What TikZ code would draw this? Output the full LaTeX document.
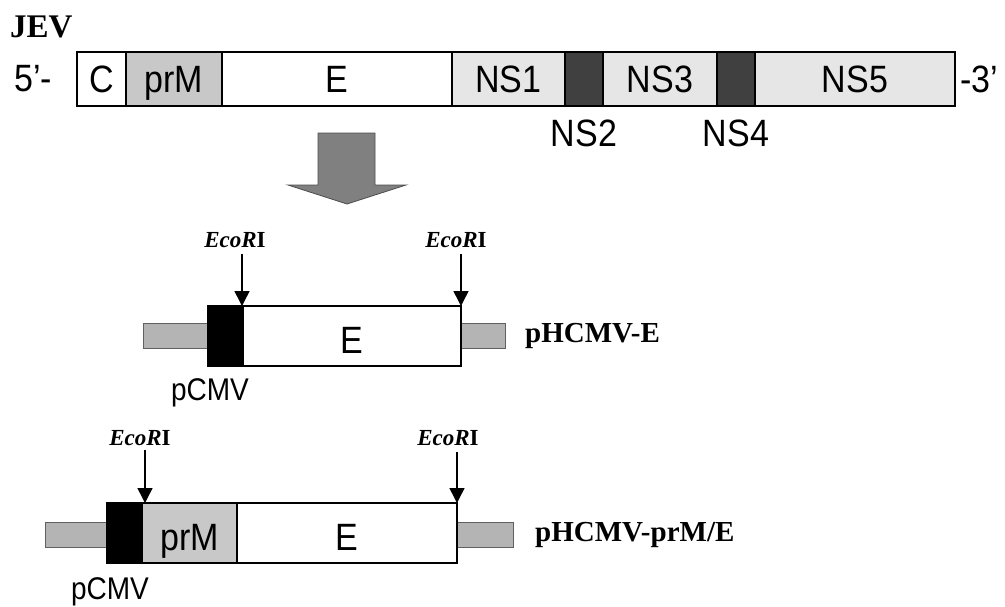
\documentclass[tikz,border=0pt]{standalone}
\usepackage{fontspec}
\usepackage{graphicx}
\setmainfont{Liberation Serif}
\newfontfamily\arialf{Liberation Sans}
\usetikzlibrary{arrows.meta}
\newcommand\vstr[1]{\scalebox{1}[1.12]{#1}}
\definecolor{prmgray}{HTML}{C8C8C8}
\definecolor{nsgray}{HTML}{E6E6E6}
\definecolor{nsdark}{HTML}{404040}
\definecolor{stubgray}{HTML}{B4B4B4}
\definecolor{stubedge}{HTML}{606060}
\definecolor{arrowgray}{HTML}{808080}
\begin{document}
\begin{tikzpicture}[x=1pt,y=-1pt,
  seg/.style={draw=black, line width=1.6pt, inner sep=0pt, outer sep=0pt, anchor=north west,
    font=\arialf\fontsize{34}{38}\selectfont, text height=27.3pt, text depth=0pt},
  lowseg/.style={seg, text height=35.3pt},
  sz/.style n args={2}{minimum width=#1pt, minimum height=#2pt},
  stub/.style={draw=stubedge, fill=stubgray, line width=1pt, inner sep=0pt, outer sep=0pt, anchor=north west},
  blk/.style={draw=black, fill=black, line width=1pt, inner sep=0pt, outer sep=0pt, anchor=north west},
  arial/.style={font=\arialf\fontsize{34}{38}\selectfont, inner sep=0pt},
  pcmv/.style={font=\arialf\fontsize{28}{32}\selectfont, inner sep=0pt},
  bigser/.style={font=\bfseries\fontsize{29}{34}\selectfont, inner sep=0pt, anchor=west},
  ecolab/.style={font=\fontsize{23}{26}\selectfont, inner sep=0pt},
  ecoarr/.style={line width=1.5pt, -{Triangle[width=15pt,length=15pt]}},
]
\useasboundingbox (0,0) rectangle (1005,606);

% ---- JEV genome ----
\node[font=\bfseries\fontsize{33}{38}\selectfont, inner sep=0pt, anchor=west] (jev) at (10,27) {JEV};
\node[arial, anchor=west] (five) at (14,79) {\vstr{5’-}};
\node[seg, sz={49}{54}, fill=white] (C) at (77,52) {\vstr{C}};
\node[seg, sz={96}{54}, fill=prmgray] (prM) at (126,52) {\vstr{prM}};
\node[seg, sz={230}{54}, fill=white] (E) at (222,52) {\vstr{E}};
\node[seg, sz={113}{54}, fill=nsgray] (NS1) at (452,52) {\vstr{NS1}};
\node[seg, sz={38}{54}, fill=nsdark] (NS2) at (565,52) {};
\node[seg, sz={114}{54}, fill=nsgray] (NS3) at (603,52) {\vstr{NS3}};
\node[seg, sz={38}{54}, fill=nsdark] (NS4) at (717,52) {};
\node[seg, sz={200}{54}, fill=nsgray] (NS5) at (755,52) {\vstr{NS5}};
\node[arial, anchor=west] (three) at (960,79) {\vstr{-3’}};
\node[arial] (ns2lab) at (584,133) {\vstr{NS2}};
\node[arial] (ns4lab) at (736,133) {\vstr{NS4}};

% ---- big arrow ----
\draw[draw=black!70, fill=arrowgray, line width=0.8pt]
  (318,133) -- (375,133) -- (375,185) -- (406,185) -- (347,204) -- (288,185) -- (318,185) -- cycle;

% ---- pHCMV-E ----
\node[stub, sz={64}{25}] (sL2) at (143,323) {};
\node[stub, sz={44}{25}] (sR2) at (461,323) {};
\node[blk, sz={36}{61}] (P2) at (207,305) {};
\node[lowseg, sz={218}{60}, fill=white] (E2) at (243,306) {\vstr{E}};
\node[ecolab] (eco1) at (235,240) {\bfseries\itshape EcoR\upshape I};
\node[ecolab] (eco2) at (456,240) {\bfseries\itshape EcoR\upshape I};
\draw[ecoarr] ([xshift=-1pt,yshift=52pt]E2.north west) -- ([xshift=-1pt]E2.north west);
\draw[ecoarr] ([yshift=52pt]E2.north east) -- (E2.north east);
\node[bigser] (lab2) at (525,336) {pHCMV-E};
\node[pcmv] (pc2) at (210,393) {\vstr{pCMV}};

% ---- pHCMV-prM/E ----
\node[stub, sz={61}{25}] (sL3) at (45,522) {};
\node[stub, sz={56}{25}] (sR3) at (457,522) {};
\node[blk, sz={36}{61}] (P3) at (106,502) {};
\node[lowseg, sz={95}{60}, fill=prmgray] (prM3) at (142,503) {\vstr{prM}};
\node[lowseg, sz={220}{60}, fill=white] (E3) at (237,503) {\vstr{E}};
\node[ecolab] (eco3) at (140,438) {\bfseries\itshape EcoR\upshape I};
\node[ecolab] (eco4) at (448,438) {\bfseries\itshape EcoR\upshape I};
\draw[ecoarr] ([xshift=3pt,yshift=53pt]prM3.north west) -- ([xshift=3pt]prM3.north west);
\draw[ecoarr] ([yshift=51pt]E3.north east) -- (E3.north east);
\node[bigser] (lab3) at (535,535) {pHCMV-prM/E};
\node[pcmv] (pc3) at (110,592) {\vstr{pCMV}};
\end{tikzpicture}
\end{document}
